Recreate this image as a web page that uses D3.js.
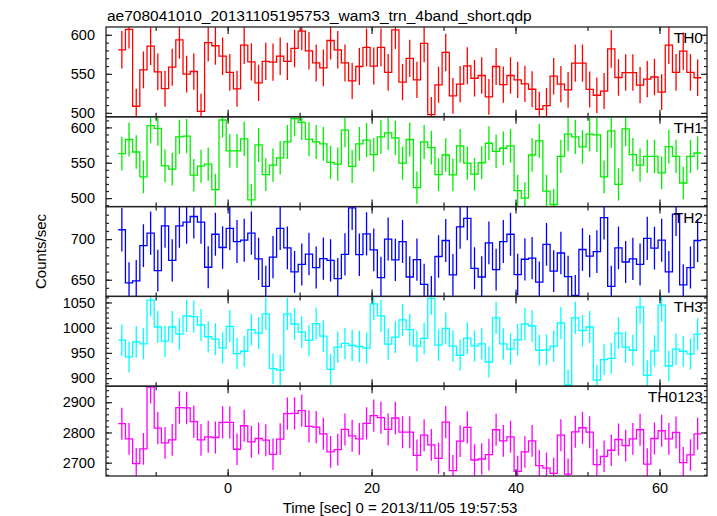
<!DOCTYPE html>
<html><head><meta charset="utf-8">
<script src="https://cdn.jsdelivr.net/npm/d3@7"></script>
<style>body{margin:0;background:#fff}svg{display:block;font-family:"Liberation Sans",Arial,Helvetica,sans-serif}</style>
</head><body><svg id="c" width="717" height="516"></svg>
<script>
// ---- data ----
const title = "ae708041010_20131105195753_wam3_trn_4band_short.qdp";
const xTitle = "Time [sec] 0 = 2013/11/05 19:57:53";
const yTitle = "Counts/sec";
const binStart = -15.2, binWidth = 1;
const xTickLabels = [0, 20, 40, 60];
const panelNames = ["TH0", "TH1", "TH2", "TH3", "TH0123"];
const panelColors = ["#ff0000", "#00ee00", "#0000ff", "#00ffff", "#ff00ff"];

const th0 = [580.8,607,508.5,555,585.5,552.6,531,558.5,593.6,549.6,553,502,590,586,572.6,552,530.8,586.8,565.4,538.5,566,565,572.6,566,582.5,604.7,579.5,564,557.7,592.7,580.8,564,541,559.4,584,560,584,552,606.4,539.3,569.7,542.3,589,497.9,536,577.4,521.8,536.8,560.3,544.4,547.9,520.5,559.4,536.3,547.9,542.3,537.2,530.3,504.7,509.4,547,536.8,529.5,563.7,563.7,530,522.6,528,582,545.3,551.7,551.7,535.5,543.2,546,526.5,586.8,552,579,552,545];
const th1 = [562.9,582.9,565.2,530,602.4,598.6,545.7,541,586.7,587.6,532.4,545.2,548,511.9,610.5,566.7,566.7,583.8,497.6,575.2,533.3,546.7,557,579.5,612.4,607,583.3,579.5,576.7,550.5,548,596.2,544.8,576.7,582,561.4,586.7,592.4,585.2,549.5,582.9,514.8,579.5,571.4,533.3,561,532.9,573.8,549.5,533.8,550,577.6,566.2,570.5,573.8,510.5,500,561,581,510,491,559,590.5,586.7,572.4,590.5,589.5,530,595.2,519.5,598,561.4,546.7,559,559,535.7,572.9,559,521.4,559,563.8];
const th2 = [711.5,646.2,648.7,691.9,707.3,661.1,716.2,673.9,716.2,721,727.8,721,665.4,706,689.7,713.2,697,698.7,707.3,675.6,641.9,677.8,713.2,689.3,659.8,668.8,681.6,665,676,673.9,651.3,681.2,738.5,680.8,706.4,686.8,652.6,700,674.4,697,653.4,674.8,644.4,629.5,678.6,698.3,656,715,725.6,664.1,653.4,695.3,662.4,697,706,656.4,675.2,676.5,647,693.6,660.7,682.9,653.8,630.8,687.2,679,684.6,726.5,641.9,689.3,671.8,675.6,668.8,700.9,688.9,698.7,659.8,730.8,643.6,665,698.3];
const th3 = [975.3,942,972,968,1054.7,1001.3,973.3,1001.3,987.3,1023.3,1022,1005.3,982,977.3,960,1002.7,948.7,953.3,996,989.3,1027.3,918.7,916,1027.3,1007.3,991.3,974.7,1008,983.3,917.3,961.3,968.7,964.7,962.7,959.3,1047.3,1023.3,967.3,981.3,1015.3,996,963.3,978.7,1058,965.3,998.7,963.3,945.3,979.3,964,968,932,1019.3,968,957.3,976,1007.3,1003.3,955.3,956,963.3,1009.3,886.7,1019.3,994,1001.3,896,936.7,939.3,989.3,961.3,955.3,1040.7,905.3,954,1044.7,924,957.3,953.3,948,987.3];
const th0123 = [2828.9,2778.9,2696.7,2745.6,2950,2814.4,2765.6,2775.6,2882.2,2881.1,2835.6,2775.6,2785.6,2783.3,2833.3,2833.3,2744.4,2822.2,2768.9,2780,2774.4,2727.8,2777.8,2862.2,2863.3,2872.2,2820,2817.8,2795.6,2735.6,2743.3,2810,2788.9,2778.9,2830,2855.6,2848.9,2810,2847.8,2801.1,2801.1,2724.4,2791.1,2758.9,2714.4,2834.4,2674,2771.1,2816.7,2708.9,2712.2,2726.7,2808.9,2772.2,2785.6,2671.1,2735.6,2772.2,2690,2682.2,2664.4,2791.1,2662.2,2802.2,2815.6,2801.1,2693.3,2721.1,2741.1,2776.7,2756.7,2778.9,2808.9,2695.6,2780,2805.6,2778.9,2800,2700,2725.6,2795.6];
const panelData = [th0, th1, th2, th3, th0123];
const panelDomains = [[495, 610], [488, 615], [629.5, 740], [884, 1062], [2656, 2953]];
const panelMajor = [[500, 550, 600], [500, 550, 600], [650, 700], [900, 950, 1000, 1050], [2700, 2800, 2900]];
const panelMinorStep = [10, 10, 10, 10, 20];

// ---- layout ----
const L = 106, R = 707, T = 27, PH = 89.8;
const svg = d3.select("#c");
const x = d3.scaleLinear().domain([-16.9, 66.6]).range([L, R]);
const frameColor = "#222";
const xTicksAll = d3.range(-10, 61, 10);
const fmt = d3.format("d");

svg.append("text").attr("x", 107).attr("y", 21).attr("font-size", 15.5).text(title);

panelData.forEach((vals, i) => {
  const y0 = T + i * PH, y1 = y0 + PH;
  const y = d3.scaleLinear().domain(panelDomains[i]).range([y1, y0]);
  const g = svg.append("g");
  const cid = "clip" + i;
  svg.append("clipPath").attr("id", cid).append("rect")
    .attr("x", L).attr("y", y0).attr("width", R - L).attr("height", PH);
  const pg = g.append("g").attr("clip-path", `url(#${cid})`);
  const color = panelColors[i];
  const pts = [];
  vals.forEach((v, k) => {
    const a = binStart + k * binWidth;
    pts.push([a, v]); pts.push([a + binWidth, v]);
  });
  pg.append("path").attr("d", d3.line().x(d => x(d[0])).y(d => y(d[1]))(pts))
    .attr("fill", "none").attr("stroke", color).attr("stroke-width", 1.3);
  pg.selectAll("line.err").data(vals).enter().append("line")
    .attr("x1", (v, k) => x(binStart + (k + 0.5) * binWidth))
    .attr("x2", (v, k) => x(binStart + (k + 0.5) * binWidth))
    .attr("y1", v => y(v - Math.sqrt(v / binWidth)))
    .attr("y2", v => y(v + Math.sqrt(v / binWidth)))
    .attr("stroke", color).attr("stroke-width", 1.3);

  // axes (inward ticks)
  const dom = panelDomains[i];
  const minor = d3.range(Math.ceil(dom[0] / panelMinorStep[i]) * panelMinorStep[i], dom[1], panelMinorStep[i]);
  const axL = g.append("g").attr("transform", `translate(${L},0)`)
    .call(d3.axisLeft(y).tickValues(panelMajor[i]).tickSize(-6).tickPadding(11).tickFormat(fmt));
  axL.selectAll("text").attr("font-size", 14.5).attr("fill", "#000");
  g.append("g").attr("transform", `translate(${L},0)`)
    .call(d3.axisLeft(y).tickValues(minor).tickSize(-3).tickFormat(""));
  g.append("g").attr("transform", `translate(${R},0)`)
    .call(d3.axisRight(y).tickValues(panelMajor[i]).tickSize(-6).tickFormat(""));
  g.append("g").attr("transform", `translate(${R},0)`)
    .call(d3.axisRight(y).tickValues(minor).tickSize(-3).tickFormat(""));
  g.append("g").attr("transform", `translate(0,${y0})`)
    .call(d3.axisTop(x).tickValues(xTicksAll).tickSize(-4).tickFormat(""));
  g.append("g").attr("transform", `translate(0,${y0})`)
    .call(d3.axisTop(x).tickValues(xTickLabels).tickSize(-7).tickFormat(""));
  g.append("g").attr("transform", `translate(0,${y1})`)
    .call(d3.axisBottom(x).tickValues(xTicksAll).tickSize(-4).tickFormat(""));
  const axB2 = g.append("g").attr("transform", `translate(0,${y1})`)
    .call(d3.axisBottom(x).tickValues(xTickLabels).tickSize(-7).tickPadding(7)
      .tickFormat(i === panelData.length - 1 ? fmt : ""));
  axB2.selectAll("text").attr("font-size", 14.5).attr("fill", "#000");
  g.selectAll(".domain").remove();
  g.selectAll(".tick line").attr("stroke", frameColor).attr("stroke-width", 1.2);

  g.append("rect").attr("x", L).attr("y", y0).attr("width", R - L).attr("height", PH)
    .attr("fill", "none").attr("stroke", frameColor).attr("stroke-width", 1.3);
  g.append("text").attr("x", 703).attr("y", y0 + 16).attr("text-anchor", "end")
    .attr("font-size", 15.5).text(panelNames[i]);
});

svg.append("text").attr("x", 400).attr("y", 513).attr("text-anchor", "middle")
  .attr("font-size", 15).text(xTitle);
svg.append("text").attr("transform", `translate(46,${T + 2.5 * PH}) rotate(-90)`)
  .attr("text-anchor", "middle").attr("font-size", 15).text(yTitle);
</script></body></html>
